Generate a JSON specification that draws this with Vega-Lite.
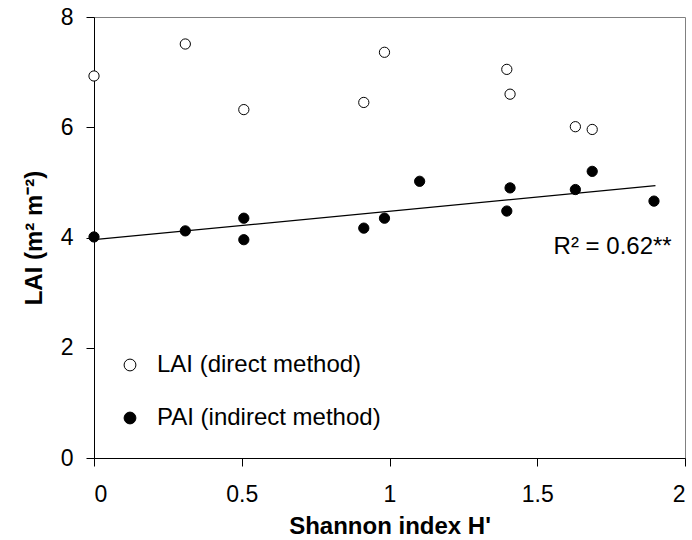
{
  "$schema": "https://vega.github.io/schema/vega-lite/v6.json",
  "autosize": {"type": "none"},
  "padding": {"left": 94, "top": 17, "right": 7, "bottom": 82},
  "width": 591,
  "height": 441,
  "background": "white",
  "config": {
    "font": "Liberation Sans",
    "view": {"stroke": "#808080", "strokeWidth": 1},
    "axis": {"grid": false, "domainColor": "black", "tickColor": "black", "labelColor": "black", "titleColor": "black", "labelFont": "Liberation Sans", "titleFont": "Liberation Sans", "labelFontSize": 23, "titleFontSize": 24, "titleFontWeight": "bold", "tickSize": 8, "domainWidth": 1, "tickWidth": 1}
  },
  "datasets": {
    "pts": [
      {"H": 0.0, "value": 6.93, "series": "LAI (direct method)"},
      {"H": 0.309, "value": 7.51, "series": "LAI (direct method)"},
      {"H": 0.507, "value": 6.32, "series": "LAI (direct method)"},
      {"H": 0.913, "value": 6.45, "series": "LAI (direct method)"},
      {"H": 0.983, "value": 7.36, "series": "LAI (direct method)"},
      {"H": 1.397, "value": 7.05, "series": "LAI (direct method)"},
      {"H": 1.408, "value": 6.60, "series": "LAI (direct method)"},
      {"H": 1.629, "value": 6.01, "series": "LAI (direct method)"},
      {"H": 1.686, "value": 5.96, "series": "LAI (direct method)"},
      {"H": 0.0, "value": 4.01, "series": "PAI (indirect method)"},
      {"H": 0.309, "value": 4.12, "series": "PAI (indirect method)"},
      {"H": 0.507, "value": 4.35, "series": "PAI (indirect method)"},
      {"H": 0.507, "value": 3.96, "series": "PAI (indirect method)"},
      {"H": 0.913, "value": 4.17, "series": "PAI (indirect method)"},
      {"H": 0.983, "value": 4.35, "series": "PAI (indirect method)"},
      {"H": 1.102, "value": 5.02, "series": "PAI (indirect method)"},
      {"H": 1.397, "value": 4.48, "series": "PAI (indirect method)"},
      {"H": 1.408, "value": 4.90, "series": "PAI (indirect method)"},
      {"H": 1.629, "value": 4.87, "series": "PAI (indirect method)"},
      {"H": 1.686, "value": 5.20, "series": "PAI (indirect method)"},
      {"H": 1.895, "value": 4.66, "series": "PAI (indirect method)"}
    ],
    "fit": [
      {"H": 0.0, "value": 3.96},
      {"H": 1.9, "value": 4.94}
    ],
    "note": [
      {"H": 1.955, "value": 3.70, "label": "R² = 0.62**"}
    ]
  },
  "layer": [
    {
      "data": {"name": "fit"},
      "mark": {"type": "line", "color": "black", "strokeWidth": 1.2},
      "encoding": {
        "x": {"field": "H", "type": "quantitative", "scale": {"domain": [0, 2]}, "axis": {"values": [0, 0.5, 1, 1.5, 2], "format": "~g", "title": "Shannon index H'", "labelPadding": 17, "titlePadding": 8}},
        "y": {"field": "value", "type": "quantitative", "scale": {"domain": [0, 8]}, "axis": {"values": [0, 2, 4, 6, 8], "format": "~g", "title": "LAI (m² m⁻²)", "labelPadding": 13, "titlePadding": 14}}
      }
    },
    {
      "data": {"name": "pts"},
      "mark": {"type": "point", "shape": "circle", "filled": true, "stroke": "black", "strokeWidth": 1, "size": 105, "opacity": 1},
      "encoding": {
        "x": {"field": "H", "type": "quantitative"},
        "y": {"field": "value", "type": "quantitative"},
        "fill": {
          "field": "series", "type": "nominal",
          "scale": {"domain": ["LAI (direct method)", "PAI (indirect method)"], "range": ["white", "black"]},
          "legend": {"title": null, "orient": "none", "legendX": 24, "legendY": 336, "padding": 0, "labelFontSize": 24, "labelFont": "Liberation Sans", "labelColor": "black", "labelLimit": 0, "labelOffset": 15, "rowPadding": 29, "symbolSize": 140, "symbolStrokeColor": "black", "symbolStrokeWidth": 1, "symbolType": "circle", "symbolOpacity": 1}
        }
      }
    },
    {
      "data": {"name": "note"},
      "mark": {"type": "text", "align": "right", "baseline": "alphabetic", "fontSize": 24, "font": "Liberation Sans", "color": "black"},
      "encoding": {
        "x": {"field": "H", "type": "quantitative"},
        "y": {"field": "value", "type": "quantitative"},
        "text": {"field": "label"}
      }
    }
  ]
}
